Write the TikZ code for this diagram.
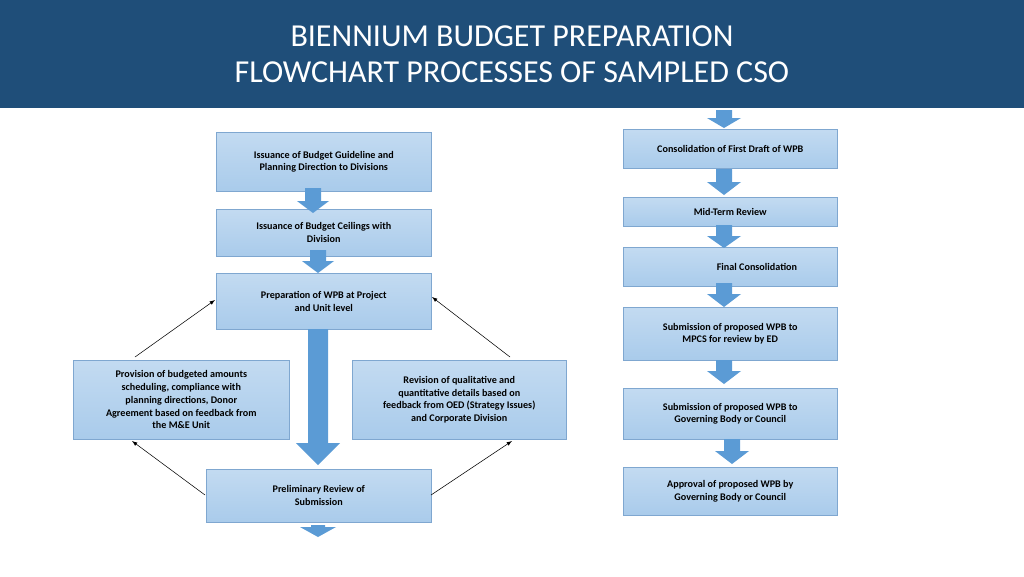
\documentclass[tikz,border=0pt]{standalone}
\usepackage{fontspec}
\setmainfont{Carlito}
\usetikzlibrary{positioning}
\definecolor{headblue}{HTML}{1F4E79}
\definecolor{boxfill}{HTML}{A9CBEB}
\definecolor{boxline}{HTML}{7FA7D0}
\definecolor{arrowblue}{HTML}{5B9BD5}
\tikzset{
  stepbox/.style={draw=boxline, top color=boxfill!70, bottom color=boxfill, inner sep=0pt,
    align=center, font=\bfseries\fontsize{7.6}{9.6}\selectfont, anchor=north west},
  thin/.style={-latex, black, line width=0.4pt}
}
% block arrow: x, top y, bottom y, shaft half width, head half width, head length
\newcommand\blockdown[6]{%
  \fill[arrowblue] (#1-#4,#2) -- (#1+#4,#2) -- (#1+#4,#3-#6) -- (#1+#5,#3-#6)
    -- (#1,#3) -- (#1-#5,#3-#6) -- (#1-#4,#3-#6) -- cycle;}
\begin{document}
\begin{tikzpicture}[x=0.75pt,y=-0.75pt]
  \useasboundingbox (0,0) rectangle (1024,576);
  \fill[headblue] (0,0) rectangle (1024,108);
  \node[white, align=center, font=\fontsize{24}{27}\selectfont] (title) at (512,54)
    {BIENNIUM BUDGET PREPARATION\\FLOWCHART PROCESSES OF SAMPLED CSO};

  % left side
  \node[stepbox, minimum width=161.25pt, minimum height=44.25pt] (guide) at (216,132)
    {Issuance of Budget Guideline and\\Planning Direction to Divisions};
  \node[stepbox, minimum width=161.25pt, minimum height=35.25pt] (ceil) at (216,209)
    {Issuance of Budget Ceilings with\\Division};
  \node[stepbox, minimum width=161.25pt, minimum height=42pt] (prep) at (216,273)
    {Preparation of WPB at Project\\and Unit level};
  \node[stepbox, minimum width=162pt, minimum height=59.25pt] (prov) at (73,360)
    {Provision of budgeted amounts\\scheduling, compliance with\\planning directions, Donor\\Agreement based on feedback from\\the M\&E Unit};
  \node[stepbox, minimum width=160.5pt, minimum height=59.25pt] (revi) at (352,360)
    {Revision of qualitative and\\quantitative details based on\\feedback from OED (Strategy Issues)\\and Corporate Division};
  \node[stepbox, minimum width=168.75pt, minimum height=39.75pt] (prel) at (206,469)
    {Preliminary Review of\\Submission};

  \blockdown{313}{188}{213}{8}{16}{12}
  \blockdown{318}{250}{273}{8}{16}{12}
  \blockdown{318}{329}{465}{10}{22}{22}
  \blockdown{318}{525}{537}{7}{18}{10}

  \draw[thin] (135,357) -- (215,300);
  \draw[thin] (510,357) -- (432,297);
  \draw[thin] (205,495) -- (132,441);
  \draw[thin] (431,495) -- (512,441);

  % right side
  \node[stepbox, minimum width=160.5pt, minimum height=29.25pt] (cons) at (623,129)
    {Consolidation of First Draft of WPB};
  \node[stepbox, minimum width=160.5pt, minimum height=21.75pt] (mid) at (623,197)
    {Mid-Term Review};
  \node[stepbox, minimum width=160.5pt, minimum height=29.25pt] (fin) at (623,247)
    {\hspace*{40pt}Final Consolidation};
  \node[stepbox, minimum width=160.5pt, minimum height=39.75pt] (subm) at (623,307)
    {Submission of proposed WPB to\\MPCS for review by ED};
  \node[stepbox, minimum width=160.5pt, minimum height=38.25pt] (subg) at (623,388)
    {Submission of proposed WPB to\\Governing Body or Council};
  \node[stepbox, minimum width=160.5pt, minimum height=36pt] (appr) at (623,467)
    {Approval of proposed WPB by\\Governing Body or Council};

  \blockdown{724}{110}{128}{8}{17}{10}
  \blockdown{724}{169}{195}{8}{17}{13}
  \blockdown{724}{225}{248}{8}{17}{12}
  \blockdown{724}{283}{307}{8}{17}{13}
  \blockdown{724}{360}{384}{8}{17}{13}
  \blockdown{732}{439}{464}{8}{17}{13}
\end{tikzpicture}
\end{document}
